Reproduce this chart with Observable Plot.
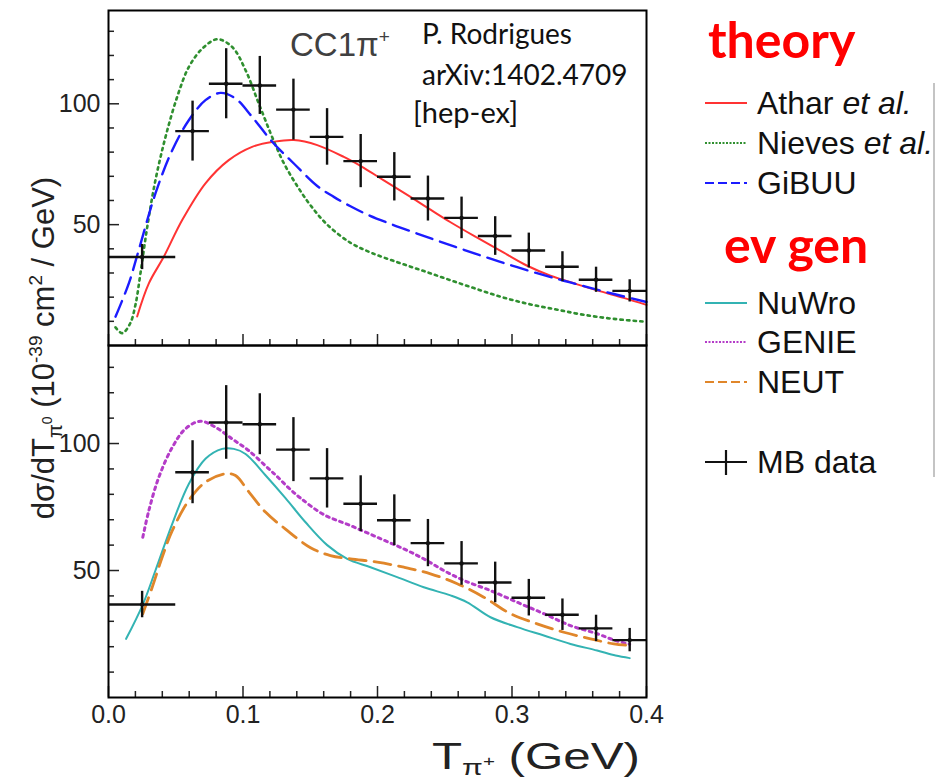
<!DOCTYPE html>
<html><head><meta charset="utf-8">
<script src="https://cdn.jsdelivr.net/npm/d3@7"></script>
<script src="https://cdn.jsdelivr.net/npm/@observablehq/plot@0.6"></script>
<style>
body{margin:0;background:#fff;}
#wrap{position:relative;width:949px;height:779px;overflow:hidden;background:#fff;}
#wrap > svg, #wrap > figure{position:absolute;left:0;margin:0;}
</style></head>
<body><div id="wrap"></div>
<script>
// ---------- data ----------
const binLow  = [0, 0.05, 0.075, 0.1, 0.125, 0.15, 0.175, 0.2, 0.225, 0.25, 0.275, 0.3, 0.325, 0.35, 0.375];
const binHigh = [0.05, 0.075, 0.1, 0.125, 0.15, 0.175, 0.2, 0.225, 0.25, 0.275, 0.3, 0.325, 0.35, 0.375, 0.4];
const mbX   = [0.025, 0.0625, 0.0875, 0.1125, 0.1375, 0.1625, 0.1875, 0.2125, 0.2375, 0.2625, 0.2875, 0.3125, 0.3375, 0.3625, 0.3875];
const mbY   = [36.6, 88.7, 108.3, 107.6, 97.6, 86.3, 76.3, 69.8, 60.8, 52.8, 45.3, 39.3, 32.6, 27.2, 22.6];
const mbErr = [5.2, 12.4, 14.5, 12, 12.6, 11.7, 11, 10, 9.3, 8.6, 8, 7.2, 6.2, 5.2, 4.6];

const atharX = [0.0213, 0.03, 0.0411, 0.0548, 0.0721, 0.0894, 0.1068, 0.1229, 0.1378, 0.1552, 0.175, 0.1898, 0.2047, 0.2245, 0.2394, 0.2543, 0.2741, 0.2939, 0.3113, 0.3286, 0.3485, 0.3658, 0.383, 0.4];
const atharY = [12, 25.7, 36.7, 51.9, 67.1, 76.7, 82.2, 84.3, 85, 82.9, 78, 73.5, 68.3, 61.5, 56.2, 51, 44.6, 38.4, 33, 28.9, 25.3, 22.4, 19.7, 16.8];

const nievesX = [0.0052, 0.0102, 0.016, 0.0201, 0.0238, 0.0288, 0.0349, 0.0424, 0.0511, 0.0597, 0.0697, 0.0808, 0.092, 0.1019, 0.1118, 0.1226, 0.1303, 0.1403, 0.1502, 0.1626, 0.1799, 0.1948, 0.2146, 0.2344, 0.2543, 0.2741, 0.2939, 0.3138, 0.3336, 0.3534, 0.3757, 0.4];
const nievesY = [7.5, 5.1, 9, 17, 30, 49, 68.4, 86.3, 102.9, 115.2, 122.8, 126.7, 123.5, 113.9, 100, 85, 75.5, 66, 58, 50, 42.5, 38.5, 34.5, 30.8, 27, 23.3, 19.8, 17, 14.8, 12.7, 11, 9.8];

const gibuuX = [0.0052, 0.0151, 0.0225, 0.0349, 0.0474, 0.0597, 0.0721, 0.0833, 0.0944, 0.1068, 0.1217, 0.1378, 0.1552, 0.1675, 0.1799, 0.1923, 0.2097, 0.227, 0.2444, 0.2642, 0.284, 0.3039, 0.3237, 0.3385, 0.3534, 0.3757, 0.4];
const gibuuY = [11.9, 25.7, 39.5, 62.9, 80.8, 93.2, 101.5, 104.5, 102.2, 94.6, 84.3, 75.3, 66, 61.5, 57.6, 54.2, 50.3, 46.8, 43.4, 39.6, 35.9, 32.4, 29.1, 26.8, 24.6, 21.3, 18];

const nuwroX = [0.0131, 0.0255, 0.0349, 0.0474, 0.0597, 0.0721, 0.0845, 0.0932, 0.1019, 0.1167, 0.1316, 0.1465, 0.1626, 0.1775, 0.1948, 0.2146, 0.2344, 0.2543, 0.2667, 0.284, 0.3039, 0.3237, 0.3435, 0.3633, 0.377, 0.3875];
const nuwroY = [23.1, 36.6, 50, 68.4, 84.1, 94, 97.9, 97.9, 95.9, 87.5, 78.5, 69, 60, 54.6, 51.3, 47.4, 43.4, 40.2, 37.5, 31.6, 27.7, 24.4, 21.1, 18.5, 16.5, 15.5];

const genieX = [0.0255, 0.03, 0.0374, 0.0474, 0.0572, 0.0684, 0.0796, 0.092, 0.1043, 0.1192, 0.1254, 0.134, 0.1428, 0.1601, 0.1799, 0.1998, 0.2196, 0.2344, 0.2493, 0.2642, 0.284, 0.3039, 0.3237, 0.3435, 0.3633, 0.377, 0.3875];
const genieY = [63.1, 73.6, 86.7, 98.5, 105.8, 108.8, 106.4, 101.8, 97.2, 90, 87, 82.5, 78.5, 72, 67.7, 63.1, 58.5, 54.6, 50, 46.1, 42.1, 37.5, 33, 28.3, 25.1, 22.4, 21];

const neutX = [0.0255, 0.0325, 0.0399, 0.0474, 0.0597, 0.0721, 0.087, 0.0944, 0.1043, 0.1167, 0.1316, 0.1502, 0.165, 0.1799, 0.1998, 0.2196, 0.2394, 0.2593, 0.279, 0.2989, 0.3187, 0.3385, 0.3584, 0.3757, 0.3875];
const neutY = [33, 43.4, 55.2, 65.7, 77.6, 84.8, 88.1, 87.4, 81, 73, 66.3, 59, 55.9, 54.6, 53.3, 51.3, 48.7, 44.8, 39.5, 33, 29, 25.7, 23.1, 21.1, 20.5];

const xMajorTicks = [0, 0.1, 0.2, 0.3, 0.4];
const xMinorTicks = [0.02, 0.04, 0.06, 0.08, 0.12, 0.14, 0.16, 0.18, 0.22, 0.24, 0.26, 0.28, 0.32, 0.34, 0.36, 0.38];
const yMajorTicks = [50, 100];
const yMinorTicks = [10, 20, 30, 40, 60, 70, 80, 90, 110, 120, 130];
const xTickLabels = ["0.0", "0.1", "0.2", "0.3", "0.4"];

const theoryNames = ["Athar", "Nieves", "GiBUU"];
const genNames = ["NuWro", "GENIE", "NEUT"];

// ---------- tables ----------
const pts = (xs, ys) => xs.map((x, i) => ({x, y: ys[i]}));
const mb = mbX.map((x, i) => ({x, y: mbY[i], lo: mbY[i] - mbErr[i], hi: mbY[i] + mbErr[i], x1: binLow[i], x2: binHigh[i]}));

const styles = {
  Athar:  {color: "#ff3333", width: 2, dash: null, legendDash: null},
  Nieves: {color: "#2f8f2f", width: 2.6, dash: "2.4,4.2", legendDash: "2,1.5"},
  GiBUU:  {color: "#1c1cff", width: 2.4, dash: "17,8", legendDash: "9,4"},
  NuWro:  {color: "#33b3b3", width: 2, dash: null, legendDash: null},
  GENIE:  {color: "#b43cc8", width: 3, dash: "2.8,4.2", legendDash: "2,1.5"},
  NEUT:   {color: "#e0862a", width: 2.8, dash: "17,8", legendDash: "9,4"}
};
const curves = {
  Athar: pts(atharX, atharY), Nieves: pts(nievesX, nievesY), GiBUU: pts(gibuuX, gibuuY),
  NuWro: pts(nuwroX, nuwroY), GENIE: pts(genieX, genieY), NEUT: pts(neutX, neutY)
};

const FONT = "'Liberation Sans', Arial, Helvetica, sans-serif";

function panel(names, {height, marginTop, marginBottom, xlabels}) {
  return Plot.plot({
    width: 660, height, marginLeft: 108, marginRight: 14, marginTop, marginBottom,
    x: {domain: [0, 0.4]},
    y: {domain: [0, 138.6]},
    style: {fontFamily: FONT, fontSize: "25px", color: "#222", background: "transparent", overflow: "visible"},
    marks: [
      ...names.map(n => Plot.line(curves[n], {
        x: "x", y: "y", stroke: styles[n].color, strokeWidth: styles[n].width,
        strokeDasharray: styles[n].dash, curve: "catmull-rom"
      })),
      Plot.ruleX(mb, {x: "x", y1: "lo", y2: "hi", stroke: "#111", strokeWidth: 2.4}),
      Plot.ruleY(mb, {y: "y", x1: "x1", x2: "x2", stroke: "#111", strokeWidth: 2.4}),
      Plot.dot(mb, {x: "x", y: "y", r: 2.2, fill: "#111"}),
      Plot.axisY(yMinorTicks, {anchor: "left", tickSize: -6, fill: "none", label: null, strokeWidth: 1.5}),
      Plot.axisY(yMajorTicks, {anchor: "left", tickSize: -11, fill: "none", label: null, strokeWidth: 1.5}),
      Plot.axisX(xMinorTicks, {anchor: "bottom", tickSize: -6, fill: "none", label: null, strokeWidth: 1.5}),
      Plot.axisX(xMajorTicks, {anchor: "bottom", tickSize: -11, fill: "none", label: null, strokeWidth: 1.5}),
      Plot.axisY(yMajorTicks, {anchor: "left", tickSize: 0, tickPadding: 8, label: null}),
      ...(xlabels ? [Plot.axisX(xMajorTicks, {anchor: "bottom", tickSize: 0, tickPadding: 8, label: null,
        tickFormat: d => xTickLabels[xMajorTicks.indexOf(d)]})] : []),
      Plot.frame({stroke: "black", strokeWidth: 2})
    ]
  });
}

const wrap = document.getElementById("wrap");
const topPanel = panel(theoryNames, {height: 346, marginTop: 10, marginBottom: 1, xlabels: false});
topPanel.style.top = "0px";
wrap.appendChild(topPanel);
const botPanel = panel(genNames, {height: 434, marginTop: 0, marginBottom: 82, xlabels: true});
botPanel.style.top = "345px";
wrap.appendChild(botPanel);

// ---------- overlay texts & legend ----------
const ov = d3.select(wrap).append("svg")
  .attr("width", 949).attr("height", 779)
  .style("position", "absolute").style("left", "0px").style("top", "0px")
  .style("pointer-events", "none");

// panel label
const cc = ov.append("text").attr("x", 290).attr("y", 56).attr("font-family", FONT)
  .attr("font-size", 33).attr("fill", "#404040").text("CC1π");
cc.append("tspan").attr("dy", -13).attr("font-size", 19).text("+");

const LATO = "Lato, 'Open Sans', sans-serif";
[["P. Rodrigues", 422, 44, 28], ["arXiv:1402.4709", 422, 85, 28], ["[hep-ex]", 413, 123, 29]].forEach(([t, x, y, fs]) =>
  ov.append("text").attr("x", x).attr("y", y).attr("font-family", LATO).attr("font-size", fs).attr("fill", "#111").text(t));

// axis titles
const yt = ov.append("text").attr("transform", "translate(54,348) rotate(-90)").attr("text-anchor", "middle")
  .attr("font-family", FONT).attr("font-size", 31).attr("fill", "#222");
yt.append("tspan").text("dσ/dT");
yt.append("tspan").attr("dy", 8).attr("font-size", 20).text("π");
yt.append("tspan").attr("dy", -10).attr("font-size", 14).text("0");
yt.append("tspan").attr("dy", 2).attr("font-size", 31).text(" (10");
yt.append("tspan").attr("dy", -12).attr("font-size", 19).text("-39");
yt.append("tspan").attr("dy", 12).attr("font-size", 31).text(" cm");
yt.append("tspan").attr("dy", -12).attr("font-size", 19).text("2");
yt.append("tspan").attr("dy", 12).attr("font-size", 31).text(" / GeV)");

const xt = ov.append("text").attr("x", 432).attr("y", 769)
  .attr("font-family", FONT).attr("font-size", 36).attr("fill", "#222")
  .attr("textLength", 208).attr("lengthAdjust", "spacingAndGlyphs");
xt.append("tspan").text("T");
xt.append("tspan").attr("dy", 6).attr("font-size", 22).text("π");
xt.append("tspan").attr("dy", -9).attr("font-size", 15).text("+");
xt.append("tspan").attr("dy", 3).attr("font-size", 36).text(" (GeV)");

// legend
const LB = "Lato, 'Open Sans', sans-serif";
ov.append("text").attr("x", 708).attr("y", 58).attr("font-family", LB).attr("font-weight", 700)
  .attr("font-size", 50).attr("fill", "#ff0000").text("theory");
ov.append("text").attr("x", 724).attr("y", 263).attr("font-family", LB).attr("font-weight", 700)
  .attr("font-size", 50).attr("fill", "#ff0000").text("ev gen");

ov.append("line").attr("x1", 934).attr("x2", 934).attr("y1", 83).attr("y2", 477)
  .attr("stroke", "#c4c4c4").attr("stroke-width", 2);

const rows = [
  ["Athar", 103, ["Athar ", "et al."]],
  ["Nieves", 143, ["Nieves ", "et al."]],
  ["GiBUU", 183, ["GiBUU"]],
  ["NuWro", 303, ["NuWro"]],
  ["GENIE", 342, ["GENIE"]],
  ["NEUT", 382, ["NEUT"]]
];
rows.forEach(([n, cy, parts]) => {
  const s = styles[n];
  ov.append("line").attr("x1", 705).attr("x2", 747).attr("y1", cy).attr("y2", cy)
    .attr("stroke", s.color).attr("stroke-width", Math.min(s.width, 2.2))
    .attr("stroke-dasharray", s.legendDash);
  const t = ov.append("text").attr("x", 757).attr("y", cy + 11).attr("font-family", FONT)
    .attr("font-size", 32).attr("fill", "#111");
  t.append("tspan").text(parts[0]);
  if (parts[1]) t.append("tspan").attr("font-style", "italic").text(parts[1]);
});
// MB data legend entry
ov.append("line").attr("x1", 705).attr("x2", 747).attr("y1", 462).attr("y2", 462).attr("stroke", "#111").attr("stroke-width", 2.2);
ov.append("line").attr("x1", 726).attr("x2", 726).attr("y1", 450).attr("y2", 475).attr("stroke", "#111").attr("stroke-width", 2.2);
ov.append("text").attr("x", 757).attr("y", 473).attr("font-family", FONT).attr("font-size", 32).attr("fill", "#111").text("MB data");
</script>
</body></html>
